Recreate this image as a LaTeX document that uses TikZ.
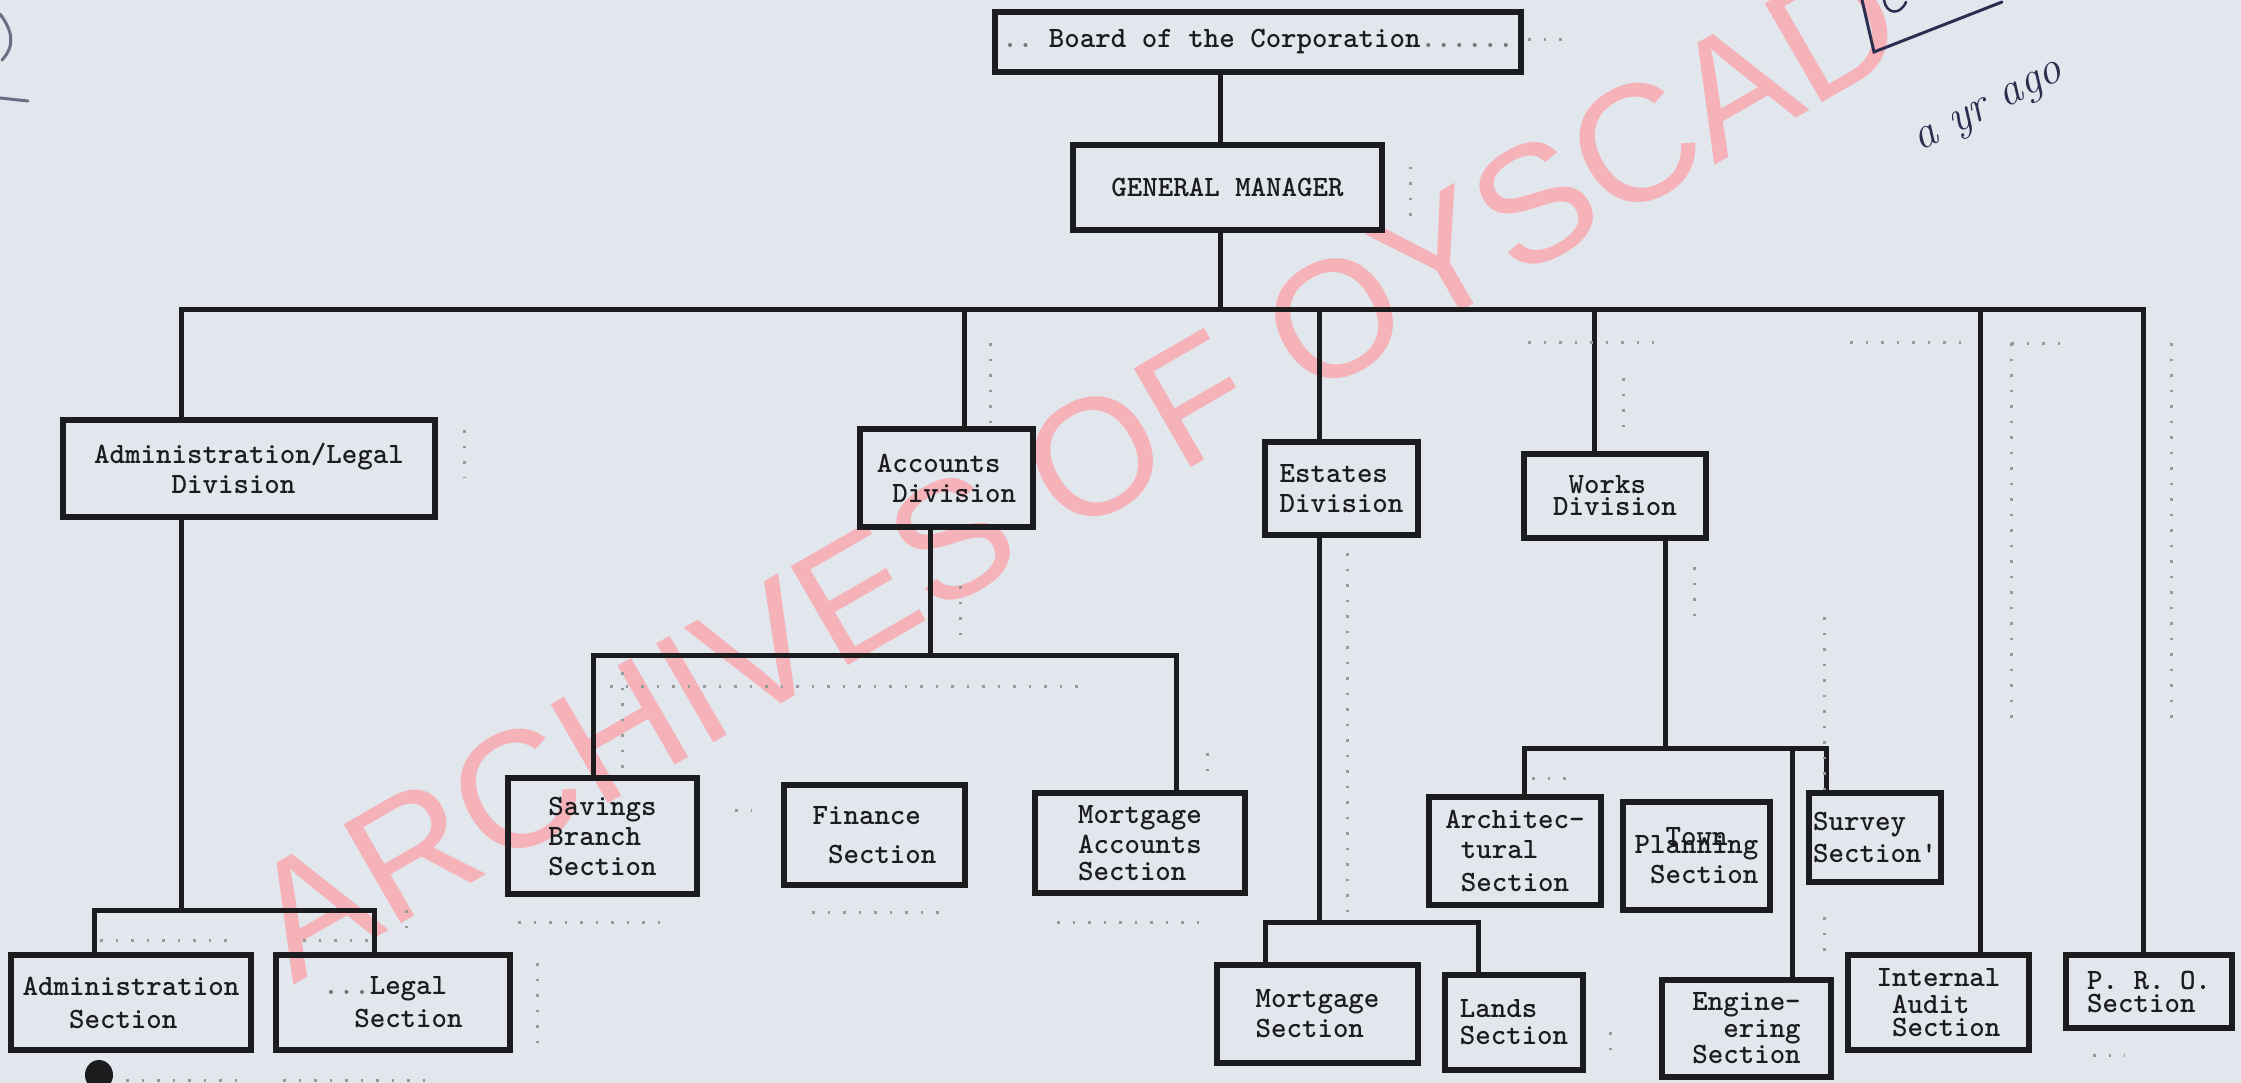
\documentclass[tikz,border=0pt]{standalone}
\usepackage{fontspec}
\newfontfamily\wmfont{Liberation Sans}
\usetikzlibrary{calc}
\definecolor{paper}{RGB}{226,231,237}
\definecolor{ink}{RGB}{28,28,30}
\definecolor{wmpink}{RGB}{245,178,184}
\definecolor{penink}{RGB}{45,45,80}
\newcommand\boxfont{\ttfamily\bfseries\fontsize{29.5}{30}\selectfont}
\newcommand\faintdots[1]{\textcolor{ink!60}{#1}}
\tikzset{
  orgbox/.style={draw=ink, line width=6pt, inner sep=0pt, align=left, font=\boxfont, text=ink},
  conn/.style={draw=ink, line width=5pt},
  typedots/.style={draw=ink!45, line width=3pt, dash pattern=on 2.5pt off 13pt},
  pen/.style={draw=penink, line width=3pt, line cap=round}
}
\begin{document}
\begin{tikzpicture}[x=1pt,y=-1pt]
\path[use as bounding box, fill=paper] (0,0) rectangle (2241,1083);
% watermark
\node[text=wmpink, rotate=30, anchor=base west, inner sep=0pt,
      font=\wmfont\fontsize{166}{166}\selectfont] (wmark) at (293,986) {ARCHIVES OF OYSCAD};

% boxes
\node[orgbox, minimum width=526pt, minimum height=60pt] (board) at (1258,42)
  {\faintdots{..}\ Board of the Corporation\faintdots{......}};
\node[orgbox, minimum width=309pt, minimum height=85pt] (gm) at (1227.5,187.5) {GENERAL MANAGER};
\node[orgbox, minimum width=372pt, minimum height=97pt] (admdiv) at (249,468.5)
  {Administration/Legal\\\phantom{xxxxx}Division};
\node[orgbox, minimum width=173pt, minimum height=98pt] (accdiv) at (946.5,478)
  {Accounts\\\phantom{x}Division};
\node[orgbox, minimum width=153pt, minimum height=93pt] (estdiv) at (1341.5,488.5)
  {Estates\\Division};
\node[orgbox, minimum width=182pt, minimum height=84pt] (wrkdiv) at (1615,496)
  {\phantom{x}Works\\[-8pt]Division};
\node[orgbox, minimum width=240pt, minimum height=95pt] (admsec) at (131,1002.5)
  {Administration\\[3pt]\phantom{xxx}Section};
\node[orgbox, minimum width=234pt, minimum height=95pt] (legsec) at (393,1002.5)
  {\faintdots{...}Legal\\[3pt]\phantom{xx}Section};
\node[orgbox, minimum width=189pt, minimum height=116pt] (savsec) at (602.5,836)
  {Savings\\Branch\\Section};
\node[orgbox, minimum width=181pt, minimum height=100pt] (finsec) at (874.5,835)
  {Finance\\[9pt]\phantom{x}Section};
\node[orgbox, minimum width=210pt, minimum height=100pt] (mortacc) at (1140,843)
  {Mortgage\\Accounts\\[-3pt]Section};
\node[orgbox, minimum width=172pt, minimum height=108pt] (archsec) at (1515,851)
  {Architec-\\\phantom{x}tural\\[3pt]\phantom{x}Section};
\node[orgbox, minimum width=147pt, minimum height=108pt] (townsec) at (1696.5,856)
  {\phantom{xx}Town\\[-22pt]Planning\\\phantom{x}Section};
\node[orgbox, minimum width=132pt, minimum height=89pt] (survsec) at (1875,837.5)
  {Survey\\[2pt]Section'};
\node[orgbox, minimum width=201pt, minimum height=98pt] (mortsec) at (1317.5,1014)
  {Mortgage\\Section};
\node[orgbox, minimum width=138pt, minimum height=95pt] (landsec) at (1514,1022.5)
  {Lands\\[-3pt]Section};
\node[orgbox, minimum width=169pt, minimum height=97pt] (engsec) at (1746.5,1028.5)
  {Engine-\\[-3pt]\phantom{xx}ering\\[-4pt]Section};
\node[orgbox, minimum width=181pt, minimum height=95pt] (intaud) at (1938.5,1002.5)
  {Internal\\[-3pt]\phantom{x}Audit\\[-7pt]\phantom{x}Section};
\node[orgbox, minimum width=166pt, minimum height=73pt] (prosec) at (2149,991.5)
  {P. R. O.\\[-7pt]Section};

% connectors
\coordinate (bus) at (1220,310);
\draw[conn] (board.south -| bus) -- (gm.north -| bus);
\draw[conn] (gm.south -| bus) -- (bus);
\draw[conn] (admdiv.north -| 181,0) |- (bus) -| (prosec.north -| 2143,0);
\draw[conn] (bus -| 964,0) -- (accdiv.north -| 964,0);
\draw[conn] (bus -| 1319,0) -- (estdiv.north -| 1319,0);
\draw[conn] (bus -| 1594,0) -- (wrkdiv.north -| 1594,0);
\draw[conn] (bus -| 1980,0) -- (intaud.north -| 1980,0);

\coordinate (admj) at (181,910);
\draw[conn] (admdiv.south -| admj) -- (admj);
\draw[conn] (admsec.north -| 94,0) |- (admj) -| (legsec.north -| 374,0);

\coordinate (accj) at (930,655);
\draw[conn] (accdiv.south -| accj) -- (accj);
\draw[conn] (savsec.north -| 593,0) |- (accj) -| (mortacc.north -| 1176,0);

\coordinate (estj) at (1319,922);
\draw[conn] (estdiv.south -| estj) -- (estj);
\draw[conn] (mortsec.north -| 1265,0) |- (estj) -| (landsec.north -| 1478,0);

\coordinate (wrkj) at (1665,748);
\draw[conn] (wrkdiv.south -| wrkj) -- (wrkj);
\draw[conn] (archsec.north -| 1524,0) |- (wrkj) -| (survsec.north -| 1826,0);
\draw[conn] (wrkj -| 1792,0) -- (engsec.north -| 1792,0);

% typewriter dot marks
\draw[typedots] (1528,40) -- (1570,40);
\draw[typedots] (1410,167) -- (1410,225);
\draw[typedots] (464,430) -- (464,478);
\draw[typedots] (990,343) -- (990,425);
\draw[typedots] (960,586) -- (960,645);
\draw[typedots] (610,686) -- (1087,686);
\draw[typedots] (622,672) -- (622,772);
\draw[typedots] (1207,753) -- (1207,772);
\draw[typedots] (518,922) -- (660,922);
\draw[typedots] (812,912) -- (950,912);
\draw[typedots] (1057,922) -- (1200,922);
\draw[typedots] (735,810) -- (752,810);
\draw[typedots] (537,963) -- (537,1046);
\draw[typedots] (1347,553) -- (1347,915);
\draw[typedots] (1694,567) -- (1694,622);
\draw[typedots] (1824,617) -- (1824,790);
\draw[typedots] (1824,917) -- (1824,962);
\draw[typedots] (2011,343) -- (2011,722);
\draw[typedots] (2171,343) -- (2171,722);
\draw[typedots] (2011,343) -- (2068,343);
\draw[typedots] (1623,378) -- (1623,432);
\draw[typedots] (100,940) -- (232,940);
\draw[typedots] (303,940) -- (370,940);
\draw[typedots] (406,910) -- (406,938);
\draw[typedots] (126,1080) -- (246,1080);
\draw[typedots] (283,1080) -- (430,1080);
\draw[typedots] (1610,1032) -- (1610,1062);
\draw[typedots] (2093,1055) -- (2125,1055);
\draw[typedots] (1532,778) -- (1568,778);
\draw[typedots] (1528,342) -- (1654,342);
\draw[typedots] (1850,342) -- (1965,342);

% ink blot and pen marks
\fill[ink] (99,1075) ellipse (14pt and 15pt);
\draw[pen] (1862,0) -- (1874,52) -- (2002,2);
\draw[pen, line width=2.5pt] (1884,0) .. controls (1886,14) and (1900,16) .. (1906,2);
\draw[pen, draw=penink!70] (0,14) .. controls (12,30) and (16,45) .. (2,60);
\draw[pen, draw=penink!70] (0,98) -- (28,101);
\node[text=penink, rotate=27, anchor=base west, inner sep=0pt,
      font=\itshape\fontsize{46}{46}\selectfont] (note) at (1920,152) {a yr ago};
\end{tikzpicture}
\end{document}
